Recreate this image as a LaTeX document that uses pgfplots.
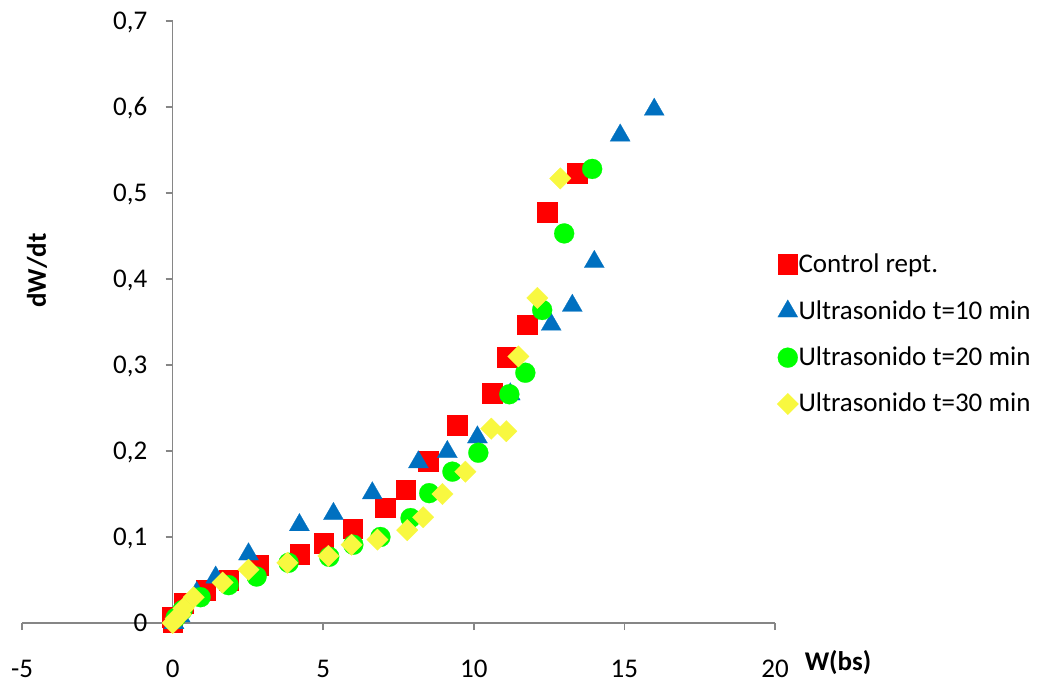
\documentclass[border=0pt]{standalone}
\usepackage{fontspec}
\setmainfont{Carlito}
\usepackage{pgfplots}
\pgfplotsset{compat=1.18}
\definecolor{axgray}{HTML}{868686}
\definecolor{cred}{HTML}{FF0000}
\definecolor{cblue}{HTML}{0070C0}
\definecolor{cgreen}{HTML}{00FF00}
\definecolor{cyellow}{HTML}{F8F840}
\begin{document}
\begin{tikzpicture}[font=\fontsize{13.5}{15}\selectfont]
\path[use as bounding box] (-11pt,-29.5pt) rectangle (508pt,311.5pt);
\begin{axis}[
  at={(0pt,0pt)}, anchor=south west,
  scale only axis, width=376.5pt, height=301pt,
  xmin=-5, xmax=20, ymin=0, ymax=0.7,
  axis x line*=bottom, axis y line*=middle,
  hide obscured x ticks=false, hide obscured y ticks=false,
  axis line style={axgray, line width=0.75pt},
  tick style={axgray, line width=0.75pt},
  tick align=outside, major tick length=3.5pt,
  xtick={-5,0,5,10,15,20},
  ytick={0,0.1,0.2,0.3,0.4,0.5,0.6,0.7},
  xticklabel style={anchor=base, inner sep=0pt, yshift=-23.5pt},
  yticklabel style={anchor=base east, inner sep=0pt, xshift=-9pt, yshift=-4.3pt},
  /pgf/number format/use comma,
  /pgf/number format/fixed,
  /pgf/number format/precision=1,
  /pgf/number format/assume math mode=true,
  clip=false,
  legend style={at={(axis description cs:1.0027,0.614)}, anchor=north west,
    draw=none, fill=none, inner sep=0pt, outer sep=0pt,
    row sep=12.3pt, column sep=0pt, nodes={inner sep=0pt}},
  legend cell align=left,
  legend image code/.code={\draw[#1] plot coordinates {(0pt,0pt)};},
]
\addplot[only marks, mark=square*, mark size=4.9pt, cred, mark options={line width=0.1pt}] coordinates {
(0.0,0.001) (-0.01,0.007) (0.36,0.023) (1.09,0.038) (1.86,0.050) (2.85,0.067)
(4.21,0.080) (5.01,0.093) (5.97,0.110) (7.06,0.134) (7.73,0.155) (8.49,0.188)
(9.45,0.230) (10.61,0.267) (11.11,0.309) (11.77,0.347) (12.44,0.478) (13.43,0.523)
};
\addlegendentry{\vphantom{Ulp}Control rept.}
\addplot[only marks, mark=triangle*, mark size=5.8pt, cblue, mark options={line width=0.1pt}] coordinates {
(0.05,0.0) (0.25,0.008) (0.8,0.035) (1.43,0.053) (2.52,0.080) (4.21,0.114) (5.34,0.127)
(6.63,0.151) (8.16,0.187) (9.12,0.199) (10.12,0.216) (11.21,0.266) (12.57,0.347)
(13.27,0.369) (14.0,0.420) (14.86,0.567) (15.99,0.597)
};
\addlegendentry{\vphantom{Ulp}Ultrasonido t=10 min}
\addplot[only marks, mark=*, mark size=5pt, cgreen, mark options={line width=0.1pt}] coordinates {
(0.1,0.006) (0.33,0.015) (0.93,0.030) (1.86,0.044) (2.79,0.054) (3.85,0.070)
(5.2,0.077) (6.0,0.091) (6.9,0.100) (7.9,0.122) (8.52,0.151) (9.29,0.176)
(10.15,0.198) (11.18,0.266) (11.71,0.291) (12.27,0.364) (13.0,0.453) (13.93,0.528)
};
\addlegendentry{\vphantom{Ulp}Ultrasonido t=20 min}
\addplot[only marks, mark=square*, mark size=3.8pt, cyellow, mark options={rotate=45, line width=0.1pt}] coordinates {
(0.0,0.0) (0.1,0.005) (0.27,0.010) (0.36,0.017) (0.7,0.030) (1.66,0.047)
(2.52,0.062) (3.81,0.070) (5.17,0.078) (5.94,0.091) (6.8,0.097) (7.79,0.108)
(8.32,0.123) (8.96,0.150) (9.72,0.176) (10.58,0.226) (11.08,0.223) (11.48,0.310)
(12.11,0.378) (12.87,0.517)
};
\addlegendentry{\vphantom{Ulp}Ultrasonido t=30 min}
\node[rotate=90, font=\fontsize{13.5}{15}\selectfont\bfseries] at (axis cs:-4.5,0.41) {dW/dt};
\node[anchor=base, inner sep=0pt, yshift=-23.5pt, font=\fontsize{13.5}{15}\selectfont\bfseries] at (axis cs:22.09,0) {W(bs)};
\end{axis}
\end{tikzpicture}
\end{document}
